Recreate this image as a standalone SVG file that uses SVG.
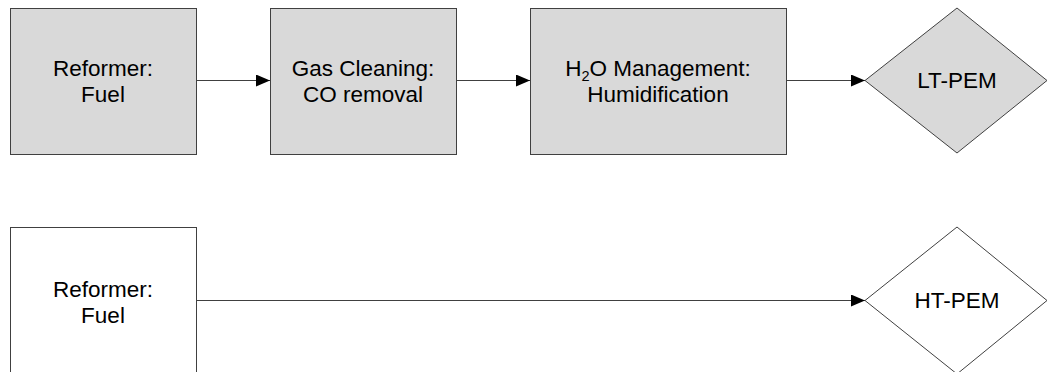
<svg xmlns="http://www.w3.org/2000/svg" width="1047" height="372" viewBox="0 0 1047 372">
<defs>
<style>
.box{fill:#d9d9d9;stroke:#404040;stroke-width:1}
.wbox{fill:#ffffff;stroke:#404040;stroke-width:1}
.lbl{font-family:"Liberation Sans",Arial,sans-serif;font-size:22.5px;fill:#000;text-anchor:middle}
.conn{stroke:#404040;stroke-width:1;fill:none;marker-end:url(#arr)}
</style>
<marker id="arr" markerUnits="userSpaceOnUse" markerWidth="14" markerHeight="12" refX="14" refY="6" orient="auto">
<path d="M0,0 L14,6 L0,12 z" fill="#000"/>
</marker>
</defs>
<rect width="1047" height="372" fill="#fff"/>
<g id="connectors">
<line class="conn" x1="196" y1="80.5" x2="270" y2="80.5"/>
<line class="conn" x1="456" y1="80.5" x2="530" y2="80.5"/>
<line class="conn" x1="786" y1="80.5" x2="865" y2="80.5"/>
<line class="conn" x1="196" y1="300.5" x2="865" y2="300.5"/>
</g>
<g id="reformer1">
<rect class="box" x="10.5" y="8.5" width="186" height="146"/>
<text class="lbl" x="103" y="76">Reformer:</text>
<text class="lbl" x="103" y="102">Fuel</text>
</g>
<g id="gascleaning">
<rect class="box" x="270.5" y="8.5" width="186" height="146"/>
<text class="lbl" x="363" y="76">Gas Cleaning:</text>
<text class="lbl" x="363" y="102">CO removal</text>
</g>
<g id="h2o">
<rect class="box" x="530.5" y="8.5" width="256" height="146"/>
<text class="lbl" x="658" y="76">H<tspan font-size="14.5" dy="5">2</tspan><tspan dy="-5">O Management:</tspan></text>
<text class="lbl" x="658" y="102">Humidification</text>
</g>
<g id="ltpem">
<polygon class="box" points="957,8 1047,80.5 957,153 865,80.5"/>
<text class="lbl" x="957" y="88">LT-PEM</text>
</g>
<g id="reformer2">
<rect class="wbox" x="10.5" y="227.5" width="186" height="150"/>
<text class="lbl" x="103" y="297">Reformer:</text>
<text class="lbl" x="103" y="323">Fuel</text>
</g>
<g id="htpem">
<polygon class="wbox" points="957,227 1047,300.5 957,374 865,300.5"/>
<text class="lbl" x="957" y="308">HT-PEM</text>
</g>
</svg>
